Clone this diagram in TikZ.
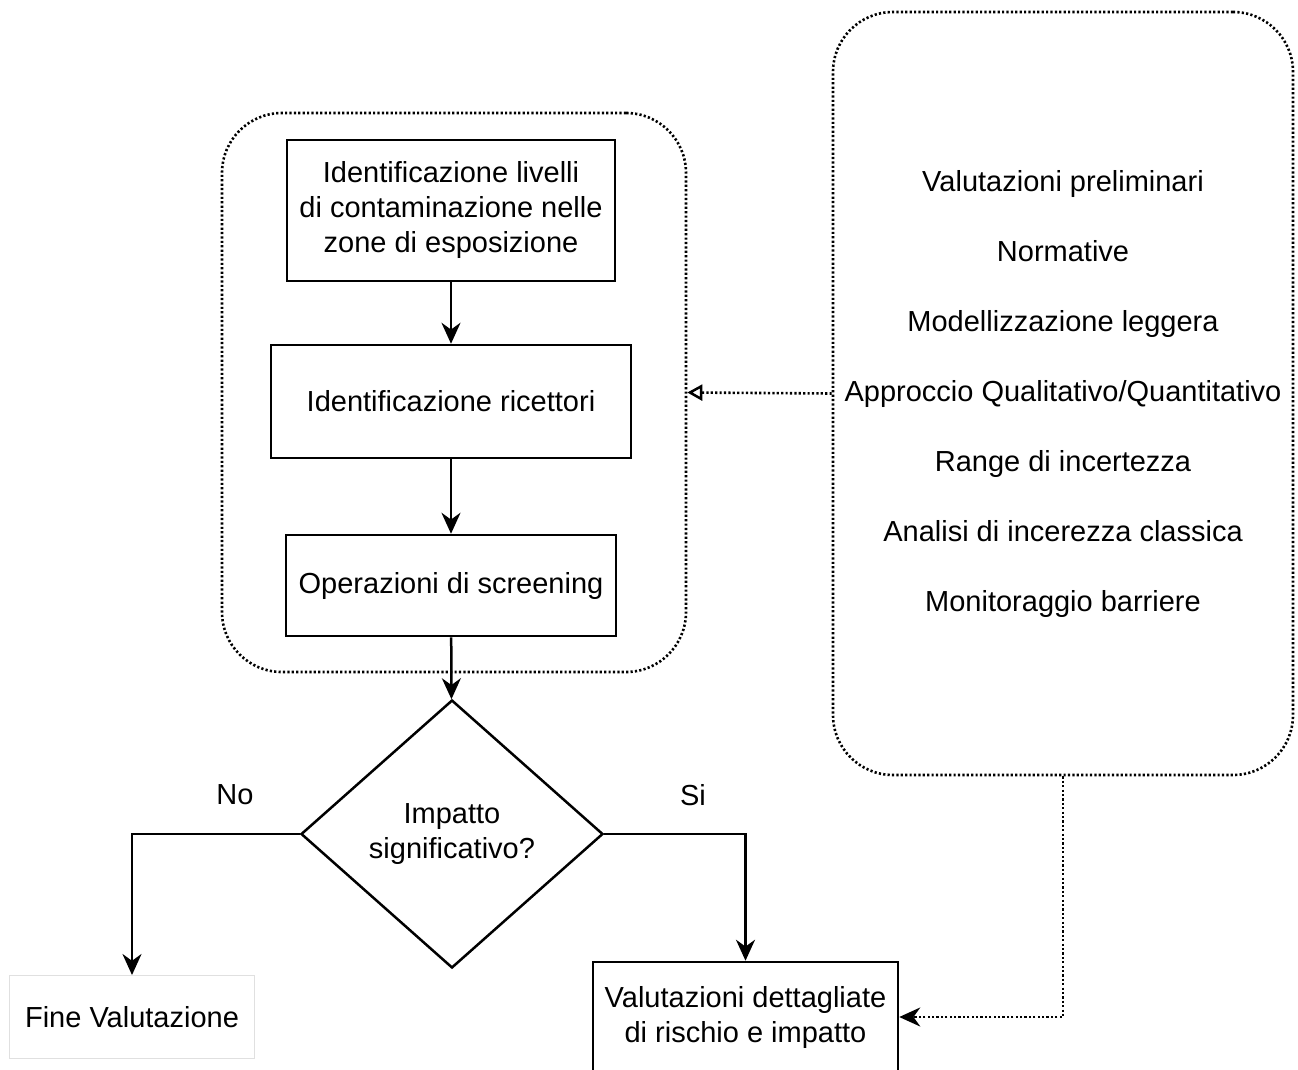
\documentclass[tikz,border=0pt]{standalone}
\usepackage{fontspec}
\setmainfont{Liberation Sans}
\usetikzlibrary{shapes.geometric,arrows.meta}
\tikzset{
  box/.style={draw, line width=2.5pt, align=center, inner sep=0pt},
  group/.style={draw, line width=2.6pt, dash pattern=on 2.2pt off 2.2pt, rounded corners=60pt, inner sep=0pt},
  flow/.style={->, line width=2.5pt},
  link/.style={line width=2.6pt, dash pattern=on 2.2pt off 2.2pt},
}
\begin{document}
\begin{tikzpicture}[x=1pt,y=-1pt,>={Stealth[length=21pt,width=19pt]},
    font=\fontsize{29pt}{35pt}\selectfont]
  \useasboundingbox (0,0) rectangle (1298,1070);
  % dotted groups
  \node[group, minimum width=464pt, minimum height=559pt] (grp) at (454,392.5) {};
  \node[group, minimum width=460pt, minimum height=763pt, align=center] (info) at (1063,393.5)
    {Valutazioni preliminari\\[35pt] Normative\\[35pt] Modellizzazione leggera\\[35pt]
     Approccio Qualitativo/Quantitativo\\[35pt] Range di incertezza\\[35pt]
     Analisi di incerezza classica\\[35pt] Monitoraggio barriere};
  % steps
  \node[box, minimum width=328pt, minimum height=141pt] (livelli) at (451,210.5)
    {Identificazione livelli\\di contaminazione nelle\\zone di esposizione};
  \node[box, minimum width=360pt, minimum height=113pt] (ricettori) at (451,401.5)
    {Identificazione ricettori};
  \node[box, minimum width=330pt, minimum height=101pt] (screening) at (451,585.5)
    {Operazioni di screening};
  \node[draw, line width=2.5pt, diamond, aspect=1.127, minimum width=302pt, minimum height=268pt,
    inner sep=0pt, align=center] (impatto) at (452,834) {Impatto\\significativo?};
  \node[draw=black!12, line width=1pt, minimum width=245pt, minimum height=83pt] (fine) at (132,1017)
    {Fine Valutazione};
  \node[box, minimum width=305pt, minimum height=110pt] (dettaglio) at (745.5,1017)
    {Valutazioni dettagliate\\di rischio e impatto};
  \node (no) at (235,795) {No};
  \node (si) at (693,795) {Si};
  % connectors
  \draw[flow] (livelli) -- (ricettori);
  \draw[flow] (ricettori) -- (screening);
  \draw[flow] (screening) -- (impatto);
  \draw[flow] (impatto.west) -| (fine.north);
  \draw[flow] (impatto.east) -| (dettaglio.north);
  \draw[link, -{Triangle[open, length=15pt, width=16pt, line width=2.5pt]}] (info.west) -- (grp.east);
  \draw[link, ->] (info.south) |- (dettaglio.east);
\end{tikzpicture}
\end{document}
